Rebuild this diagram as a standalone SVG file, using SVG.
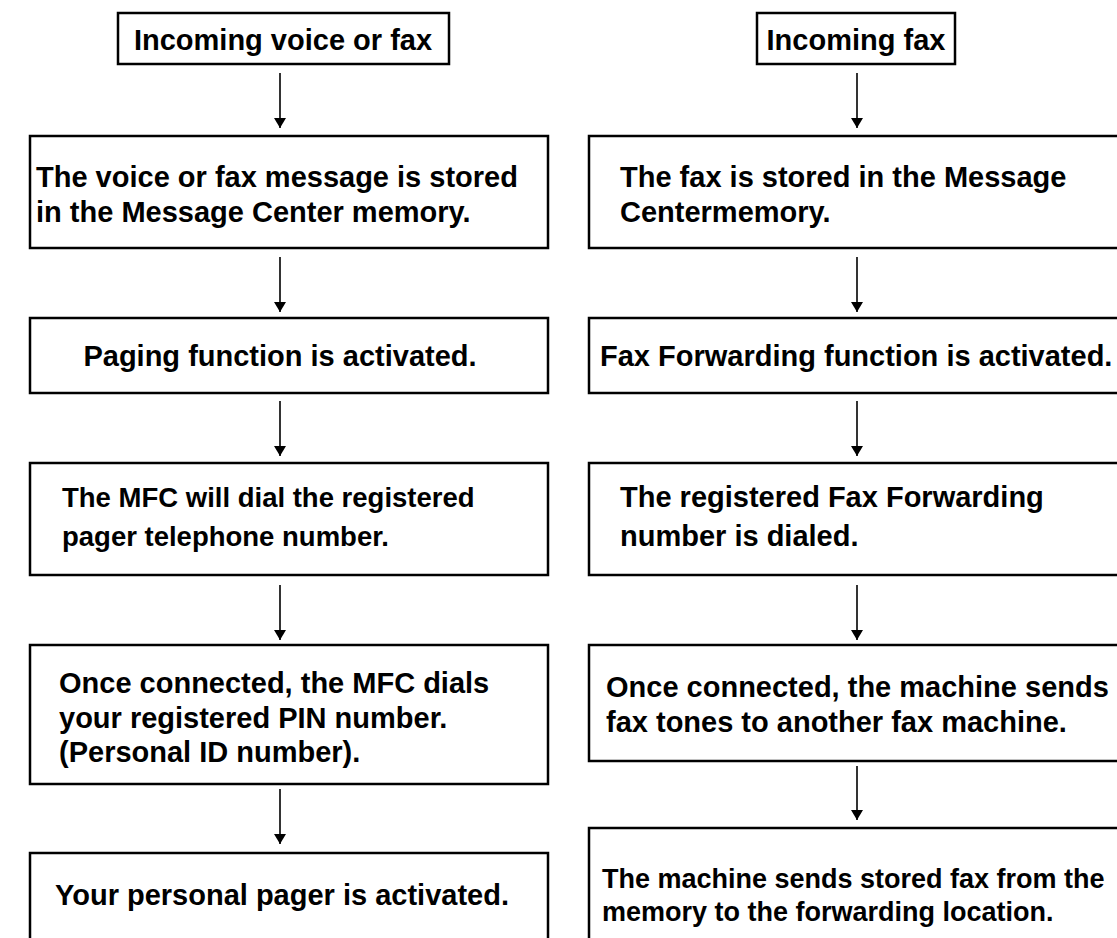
<svg xmlns="http://www.w3.org/2000/svg" width="1117" height="938" viewBox="0 0 1117 938">
<style>
.box{fill:#fff;stroke:#000;stroke-width:2.5}
.t{font-family:"Liberation Sans",Arial,Helvetica,sans-serif;font-weight:bold;font-size:29px;fill:#000}
.m{font-size:27.5px}
.s{font-size:27px}
.c{text-anchor:middle}
.ln{stroke:#000;stroke-width:1.6;fill:none}
</style>
<defs>
<marker id="ah" viewBox="0 0 10 12" refX="10" refY="6" markerWidth="10" markerHeight="12" markerUnits="userSpaceOnUse" orient="auto">
<path d="M0,0 L10,6 L0,12 Z" fill="#000"/>
</marker>
</defs>
<rect width="1117" height="938" fill="#fff"/>
<g id="connectors">
<line class="ln" x1="280" y1="73" x2="280" y2="128" marker-end="url(#ah)"/>
<line class="ln" x1="280" y1="257" x2="280" y2="312" marker-end="url(#ah)"/>
<line class="ln" x1="280" y1="401" x2="280" y2="456" marker-end="url(#ah)"/>
<line class="ln" x1="280" y1="585" x2="280" y2="640" marker-end="url(#ah)"/>
<line class="ln" x1="280" y1="789" x2="280" y2="844" marker-end="url(#ah)"/>
<line class="ln" x1="857" y1="73" x2="857" y2="128" marker-end="url(#ah)"/>
<line class="ln" x1="857" y1="257" x2="857" y2="312" marker-end="url(#ah)"/>
<line class="ln" x1="857" y1="401" x2="857" y2="456" marker-end="url(#ah)"/>
<line class="ln" x1="857" y1="585" x2="857" y2="640" marker-end="url(#ah)"/>
<line class="ln" x1="857" y1="766" x2="857" y2="820" marker-end="url(#ah)"/>
</g>
<g id="L0"><rect class="box" x="118" y="13" width="331" height="51"/><text class="t c" x="283" y="50">Incoming voice or fax</text></g>
<g id="L1"><rect class="box" x="30" y="136" width="518" height="112"/><text class="t" x="36" y="187">The voice or fax message is stored</text><text class="t" x="36" y="222">in the Message Center memory.</text></g>
<g id="L2"><rect class="box" x="30" y="318" width="518" height="75"/><text class="t c" x="280" y="366">Paging function is activated.</text></g>
<g id="L3"><rect class="box" x="30" y="463" width="518" height="112"/><text class="t m" x="62" y="507">The MFC will dial the registered</text><text class="t m" x="62" y="546">pager telephone number.</text></g>
<g id="L4"><rect class="box" x="30" y="645" width="518" height="139"/><text class="t" x="59" y="693">Once connected, the MFC dials</text><text class="t" x="59" y="728">your registered PIN number.</text><text class="t" x="59" y="762">(Personal ID number).</text></g>
<g id="L5"><rect class="box" x="30" y="853" width="518" height="110"/><text class="t c" x="282" y="905">Your personal pager is activated.</text></g>
<g id="R0"><rect class="box" x="757" y="13" width="198" height="51"/><text class="t c" x="856" y="50">Incoming fax</text></g>
<g id="R1"><rect class="box" x="589" y="136" width="540" height="112"/><text class="t" x="620" y="187">The fax is stored in the Message</text><text class="t" x="620" y="222">Centermemory.</text></g>
<g id="R2"><rect class="box" x="589" y="318" width="540" height="75"/><text class="t" x="600" y="366">Fax Forwarding function is activated.</text></g>
<g id="R3"><rect class="box" x="589" y="463" width="540" height="112"/><text class="t" x="620" y="507">The registered Fax Forwarding</text><text class="t" x="620" y="546">number is dialed.</text></g>
<g id="R4"><rect class="box" x="589" y="645" width="540" height="116"/><text class="t" x="606" y="697">Once connected, the machine sends</text><text class="t" x="606" y="732">fax tones to another fax machine.</text></g>
<g id="R5"><rect class="box" x="589" y="828" width="540" height="130"/><text class="t s" x="602" y="888">The machine sends stored fax from the</text><text class="t s" x="602" y="921">memory to the forwarding location.</text></g>
</svg>
